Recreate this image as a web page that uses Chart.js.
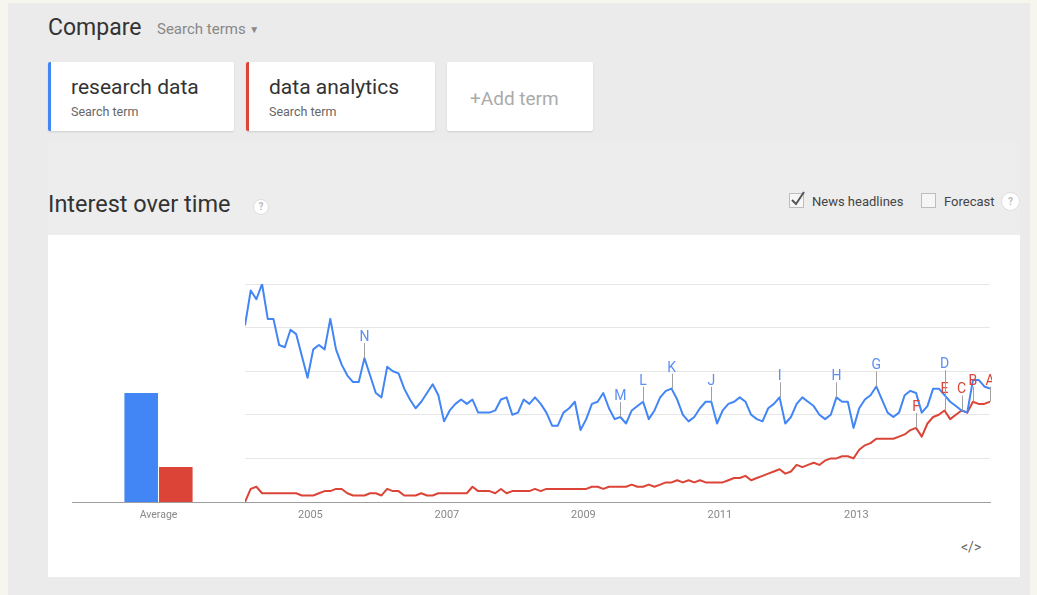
<!DOCTYPE html>
<html>
<head>
<meta charset="utf-8">
<script src="https://cdn.jsdelivr.net/npm/chart.js"></script>
<style>
body{margin:0;width:1037px;height:595px;background:#f7f6ee;font-family:Roboto,Arial,sans-serif;position:relative;overflow:hidden}
.a{position:absolute;white-space:nowrap}
#panel{left:8px;top:3px;width:1022px;height:592px;background:#ebebeb}
#band{left:48px;top:143px;width:972px;height:92px;background:#ededed}
.card{background:#fff;top:62px;height:69px;border-radius:2px;box-shadow:0 1px 2px rgba(0,0,0,0.12)}
.term{font-size:21px;color:#333;line-height:21px}
.sub{font-size:12.5px;color:#666;line-height:13px}
.box{width:13px;height:13px;border:1px solid #bdbdbd;background:#f6f6f6;top:193px}
.lbl{font-size:13px;color:#444;line-height:13px;top:195px}
.help{border-radius:50%;background:#fff;border:1px solid #ddd;color:#bbb;font-size:10px;text-align:center;font-weight:bold}
#chartcard{left:48px;top:235px;width:972px;height:342px;background:#fff}
canvas{position:absolute}
</style>
</head>
<body>
<div class="a" id="panel"></div>
<div class="a" id="band"></div>

<div class="a" style="left:48px;top:16px;font-size:23px;line-height:23px;color:#333">Compare</div>
<div class="a" style="left:157px;top:22px;font-size:15px;line-height:15px;color:#888">Search terms <span style="font-size:10px;position:relative;top:-1px">&#9660;</span></div>

<div class="a card" style="left:48px;width:183px;border-left:3px solid #4285f4"></div>
<div class="a term" style="left:71px;top:77px">research data</div>
<div class="a sub" style="left:71px;top:105px">Search term</div>

<div class="a card" style="left:246px;width:186px;border-left:3px solid #db4437"></div>
<div class="a term" style="left:269px;top:77px">data analytics</div>
<div class="a sub" style="left:269px;top:105px">Search term</div>

<div class="a card" style="left:447px;width:146px"></div>
<div class="a" style="left:470px;top:89px;font-size:19px;line-height:19px;color:#aaa">+Add term</div>

<div class="a" style="left:48px;top:192px;font-size:23.5px;line-height:24px;color:#333">Interest over time</div>
<div class="a help" style="left:253px;top:199px;width:14px;height:14px;line-height:14px">?</div>

<div class="a box" style="left:789px"></div>
<svg class="a" style="left:789px;top:189px" width="18" height="20"><path d="M3 11 L7 15 L15 3" stroke="#555" stroke-width="2" fill="none"/></svg>
<div class="a lbl" style="left:812px">News headlines</div>
<div class="a box" style="left:921px"></div>
<div class="a lbl" style="left:944px">Forecast</div>
<div class="a help" style="left:1001px;top:192px;width:17px;height:17px;line-height:17px">?</div>

<div class="a" id="chartcard"></div>
<canvas id="avg" width="183" height="258" style="left:62px;top:274px"></canvas>
<canvas id="trend" width="757" height="258" style="left:235px;top:274px"></canvas>
<div class="a" style="left:961px;top:540px;font-size:14px;line-height:15px;color:#666">&lt;/&gt;</div>

<script>
// search interest, monthly from Jan 2004
var startYear = 2004;
var yearLabels = ['2005', '2007', '2009', '2011', '2013'];
var averages = [50, 16];

var researchData = [81,97,93,100,84,84,72,71,79,77,67,57,
    70,72,70,84,70,63,58,55,55,66,58,50,
    48,62,60,59,52,47,43,46,50,54,49,37,
    42,45,47,45,47,41,41,41,42,47,48,40,
    41,47,45,48,45,41,35,35,41,43,46,33,
    38,45,46,50,43,38,39,36,42,44,46,38,
    42,48,51,52,47,40,37,39,43,46,46,36,
    42,45,46,48,46,40,38,37,43,45,48,36,
    39,45,48,46,44,40,38,40,48,46,46,34,
    43,47,49,53,47,41,39,41,49,51,50,41,
    44,52,52,49,46,44,42,41,56,56,53,52];

var dataAnalytics = [0,6,7,4,4,4,4,4,4,4,3,3,
    3,4,5,5,6,6,4,3,3,3,4,4,
    3,6,5,5,3,3,3,4,3,3,4,4,
    4,4,4,4,7,5,5,5,4,6,4,5,
    5,5,5,6,5,6,6,6,6,6,6,6,
    6,7,7,6,7,7,7,7,8,7,7,8,
    7,8,9,9,10,9,10,9,10,9,9,9,
    9,10,11,11,12,10,11,12,13,14,15,13,
    14,17,16,17,18,17,19,20,20,21,21,20,
    24,26,27,29,29,29,29,30,31,33,34,30,
    36,39,40,42,38,40,42,41,46,45,45,46];

// news headline markers
var noteLetters = ['N','M','L','K','J','I','H','G','F','E','D','C','B','A'];
var noteMonth = [21,66,70,75,82,94,104,111,118,123,123,126,128,131];
var noteTerm = ['r','r','r','r','r','r','r','r','d','d','r','d','d','d'];

var blue = '#4285f4';
var red = '#db4437';

new Chart(document.getElementById('avg'), {
    type: 'bar',
    data: {
        labels: ['Average'],
        datasets: [
            {data: [averages[0]], backgroundColor: blue},
            {data: [averages[1]], backgroundColor: red}
        ]
    },
    options: {
        responsive: false,
        animation: false,
        layout: {padding: {left: 10, top: 10, right: 0, bottom: 0}},
        plugins: {legend: {display: false}, tooltip: {enabled: false}},
        datasets: {bar: {categoryPercentage: 0.4, barPercentage: 0.97}},
        scales: {
            x: {
                grid: {display: false, drawTicks: false},
                border: {color: '#9e9e9e'},
                ticks: {color: '#888', font: {size: 10.5, family: 'Roboto'}, padding: 7},
                afterFit: function(s) { s.height = 30; }
            },
            y: {min: 0, max: 100, display: false}
        }
    }
});

var notesPlugin = {
    id: 'notes',
    afterDatasetsDraw: function(chart) {
        var ctx = chart.ctx, x = chart.scales.x, y = chart.scales.y;
        ctx.save();
        ctx.font = '14px Roboto, Arial';
        ctx.textAlign = 'center';
        for (let k = 0; k < noteLetters.length; k++) {
            var m = noteMonth[k];
            var series = noteTerm[k] === 'd' ? dataAnalytics : researchData;
            var px = x.getPixelForValue(m);
            var py = y.getPixelForValue(series[m]);
            // a second marker on the same month sits a bit higher
            var lift = noteMonth.indexOf(m) !== k ? 10 : 0;
            ctx.strokeStyle = '#a0a0a0';
            ctx.lineWidth = 1;
            ctx.beginPath();
            ctx.moveTo(Math.round(px) + 0.5, py - 15 - lift);
            ctx.lineTo(Math.round(px) + 0.5, py);
            ctx.stroke();
            ctx.fillStyle = noteTerm[k] === 'd' ? red : '#5b8ff3';
            ctx.fillText(noteLetters[k], px, py - 17 - lift);
        }
        ctx.restore();
    }
};

new Chart(document.getElementById('trend'), {
    type: 'line',
    data: {
        datasets: [
            {data: researchData.map((v, i) => ({x: i, y: v})), borderColor: blue},
            {data: dataAnalytics.map((v, i) => ({x: i, y: v})), borderColor: red}
        ]
    },
    options: {
        responsive: false,
        animation: false,
        layout: {padding: {left: 10, top: 10, right: 2, bottom: 0}},
        plugins: {legend: {display: false}, tooltip: {enabled: false}},
        elements: {
            point: {radius: 0},
            line: {borderWidth: 2, tension: 0, borderJoinStyle: 'round'}
        },
        scales: {
            x: {
                type: 'linear',
                min: 0,
                max: researchData.length - 1,
                grid: {display: false, drawTicks: false},
                border: {color: '#9e9e9e'},
                afterBuildTicks: function(s) {
                    s.ticks = yearLabels.map(yl => ({value: (Number(yl) - startYear) * 12 - 0.5}));
                },
                ticks: {
                    autoSkip: false,
                    maxRotation: 0,
                    color: '#888',
                    font: {size: 11, family: 'Roboto'},
                    padding: 7,
                    callback: function(v) { return String(startYear + Math.round((v + 0.5) / 12)); }
                },
                afterFit: function(s) { s.height = 30; }
            },
            y: {
                min: 0,
                max: 100,
                ticks: {display: false, stepSize: 20},
                grid: {
                    color: function(c) { return c.tick.value === 0 ? 'rgba(0,0,0,0)' : '#e6e6e6'; },
                    drawTicks: false
                },
                border: {display: false},
                afterFit: function(s) { s.width = 0; }
            }
        }
    },
    plugins: [notesPlugin]
});
</script>
</body>
</html>
